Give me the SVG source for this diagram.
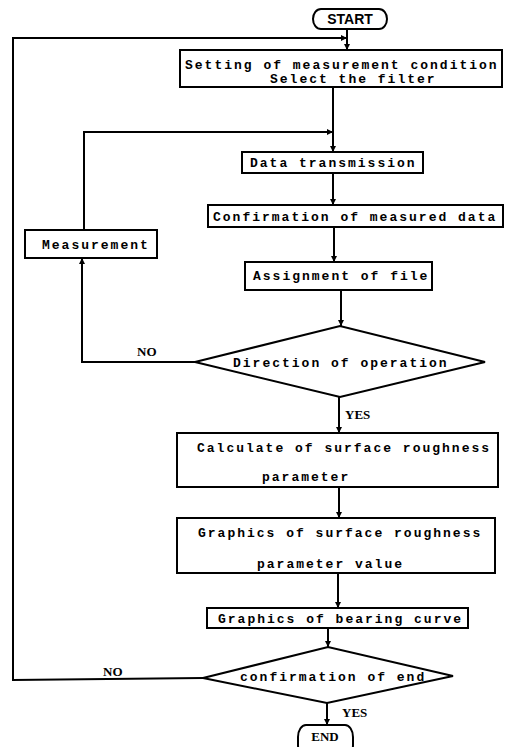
<svg xmlns="http://www.w3.org/2000/svg" width="511" height="747" viewBox="0 0 511 747">
<style>
.box{fill:#fff;stroke:#000;stroke-width:2}
.ln{fill:none;stroke:#000;stroke-width:2}
.t{font-family:"Liberation Mono","DejaVu Sans Mono",monospace;font-size:13px;font-weight:bold;letter-spacing:2px;fill:#000}
.lb{font-family:"Liberation Serif","Times New Roman",serif;font-size:13px;font-weight:bold;fill:#000}
.tm{font-family:"Liberation Sans",Arial,sans-serif;font-size:14px;font-weight:bold;fill:#000}
</style>
<defs>
<marker id="ah" viewBox="0 0 6 6" refX="6" refY="3" markerWidth="6" markerHeight="6" markerUnits="userSpaceOnUse" orient="auto">
<path d="M0,0 L6,3 L0,6 Z" fill="#000"/>
</marker>
</defs>
<g id="connectors">
<path class="ln" d="M347,29 V50" marker-end="url(#ah)"/>
<path class="ln" d="M203,678 L13,680 V38 H347" marker-end="url(#ah)"/>
<path class="ln" d="M333,87 V152" marker-end="url(#ah)"/>
<path class="ln" d="M84,230 V132 H333" marker-end="url(#ah)"/>
<path class="ln" d="M333,173 V205" marker-end="url(#ah)"/>
<path class="ln" d="M334,227 V262" marker-end="url(#ah)"/>
<path class="ln" d="M341,290 V326" marker-end="url(#ah)"/>
<path class="ln" d="M195,362 H82 V258" marker-end="url(#ah)"/>
<path class="ln" d="M339,397 V433" marker-end="url(#ah)"/>
<path class="ln" d="M339,487 V518" marker-end="url(#ah)"/>
<path class="ln" d="M338,573 V608" marker-end="url(#ah)"/>
<path class="ln" d="M328,628 V647" marker-end="url(#ah)"/>
<path class="ln" d="M327,703 V725" marker-end="url(#ah)"/>
<text class="lb" x="137" y="356">NO</text>
<text class="lb" x="345" y="419">YES</text>
<text class="lb" x="103" y="676">NO</text>
<text class="lb" x="342" y="717">YES</text>
</g>
<g id="start">
<rect class="box" x="313" y="9" width="74" height="20" rx="8" ry="10"/>
<text class="tm" x="350" y="24" text-anchor="middle">START</text>
</g>
<g id="setting">
<rect class="box" x="180" y="50" width="322" height="37"/>
<text class="t" x="185" y="69">Setting of measurement condition</text>
<text class="t" x="270" y="83">Select the filter</text>
</g>
<g id="data">
<rect class="box" x="242" y="152" width="181" height="21"/>
<text class="t" x="250" y="167">Data transmission</text>
</g>
<g id="confirm">
<rect class="box" x="208" y="205" width="295" height="22"/>
<text class="t" x="213" y="221">Confirmation of measured data</text>
</g>
<g id="measurement">
<rect class="box" x="25" y="230" width="132" height="28"/>
<text class="t" x="42" y="249">Measurement</text>
</g>
<g id="assign">
<rect class="box" x="245" y="262" width="187" height="28"/>
<text class="t" x="253" y="280">Assignment of file</text>
</g>
<g id="direction">
<polygon class="box" points="195,362 340,326 485,362 340,397"/>
<text class="t" x="233" y="367">Direction of operation</text>
</g>
<g id="calculate">
<rect class="box" x="177" y="433" width="321" height="54"/>
<text class="t" x="197" y="452">Calculate of surface roughness</text>
<text class="t" x="262" y="481">parameter</text>
</g>
<g id="graphics">
<rect class="box" x="177" y="518" width="318" height="55"/>
<text class="t" x="198" y="537">Graphics of surface roughness</text>
<text class="t" x="257" y="568">parameter value</text>
</g>
<g id="bearing">
<rect class="box" x="207" y="608" width="261" height="20"/>
<text class="t" x="218" y="623">Graphics of bearing curve</text>
</g>
<g id="endcheck">
<polygon class="box" points="203,678 328,647 453,676 327,703"/>
<text class="t" x="240" y="681">confirmation of end</text>
</g>
<g id="end">
<rect class="box" x="298" y="725" width="55" height="32" rx="8" ry="12"/>
<text class="lb" x="325" y="741" text-anchor="middle">END</text>
</g>
</svg>
